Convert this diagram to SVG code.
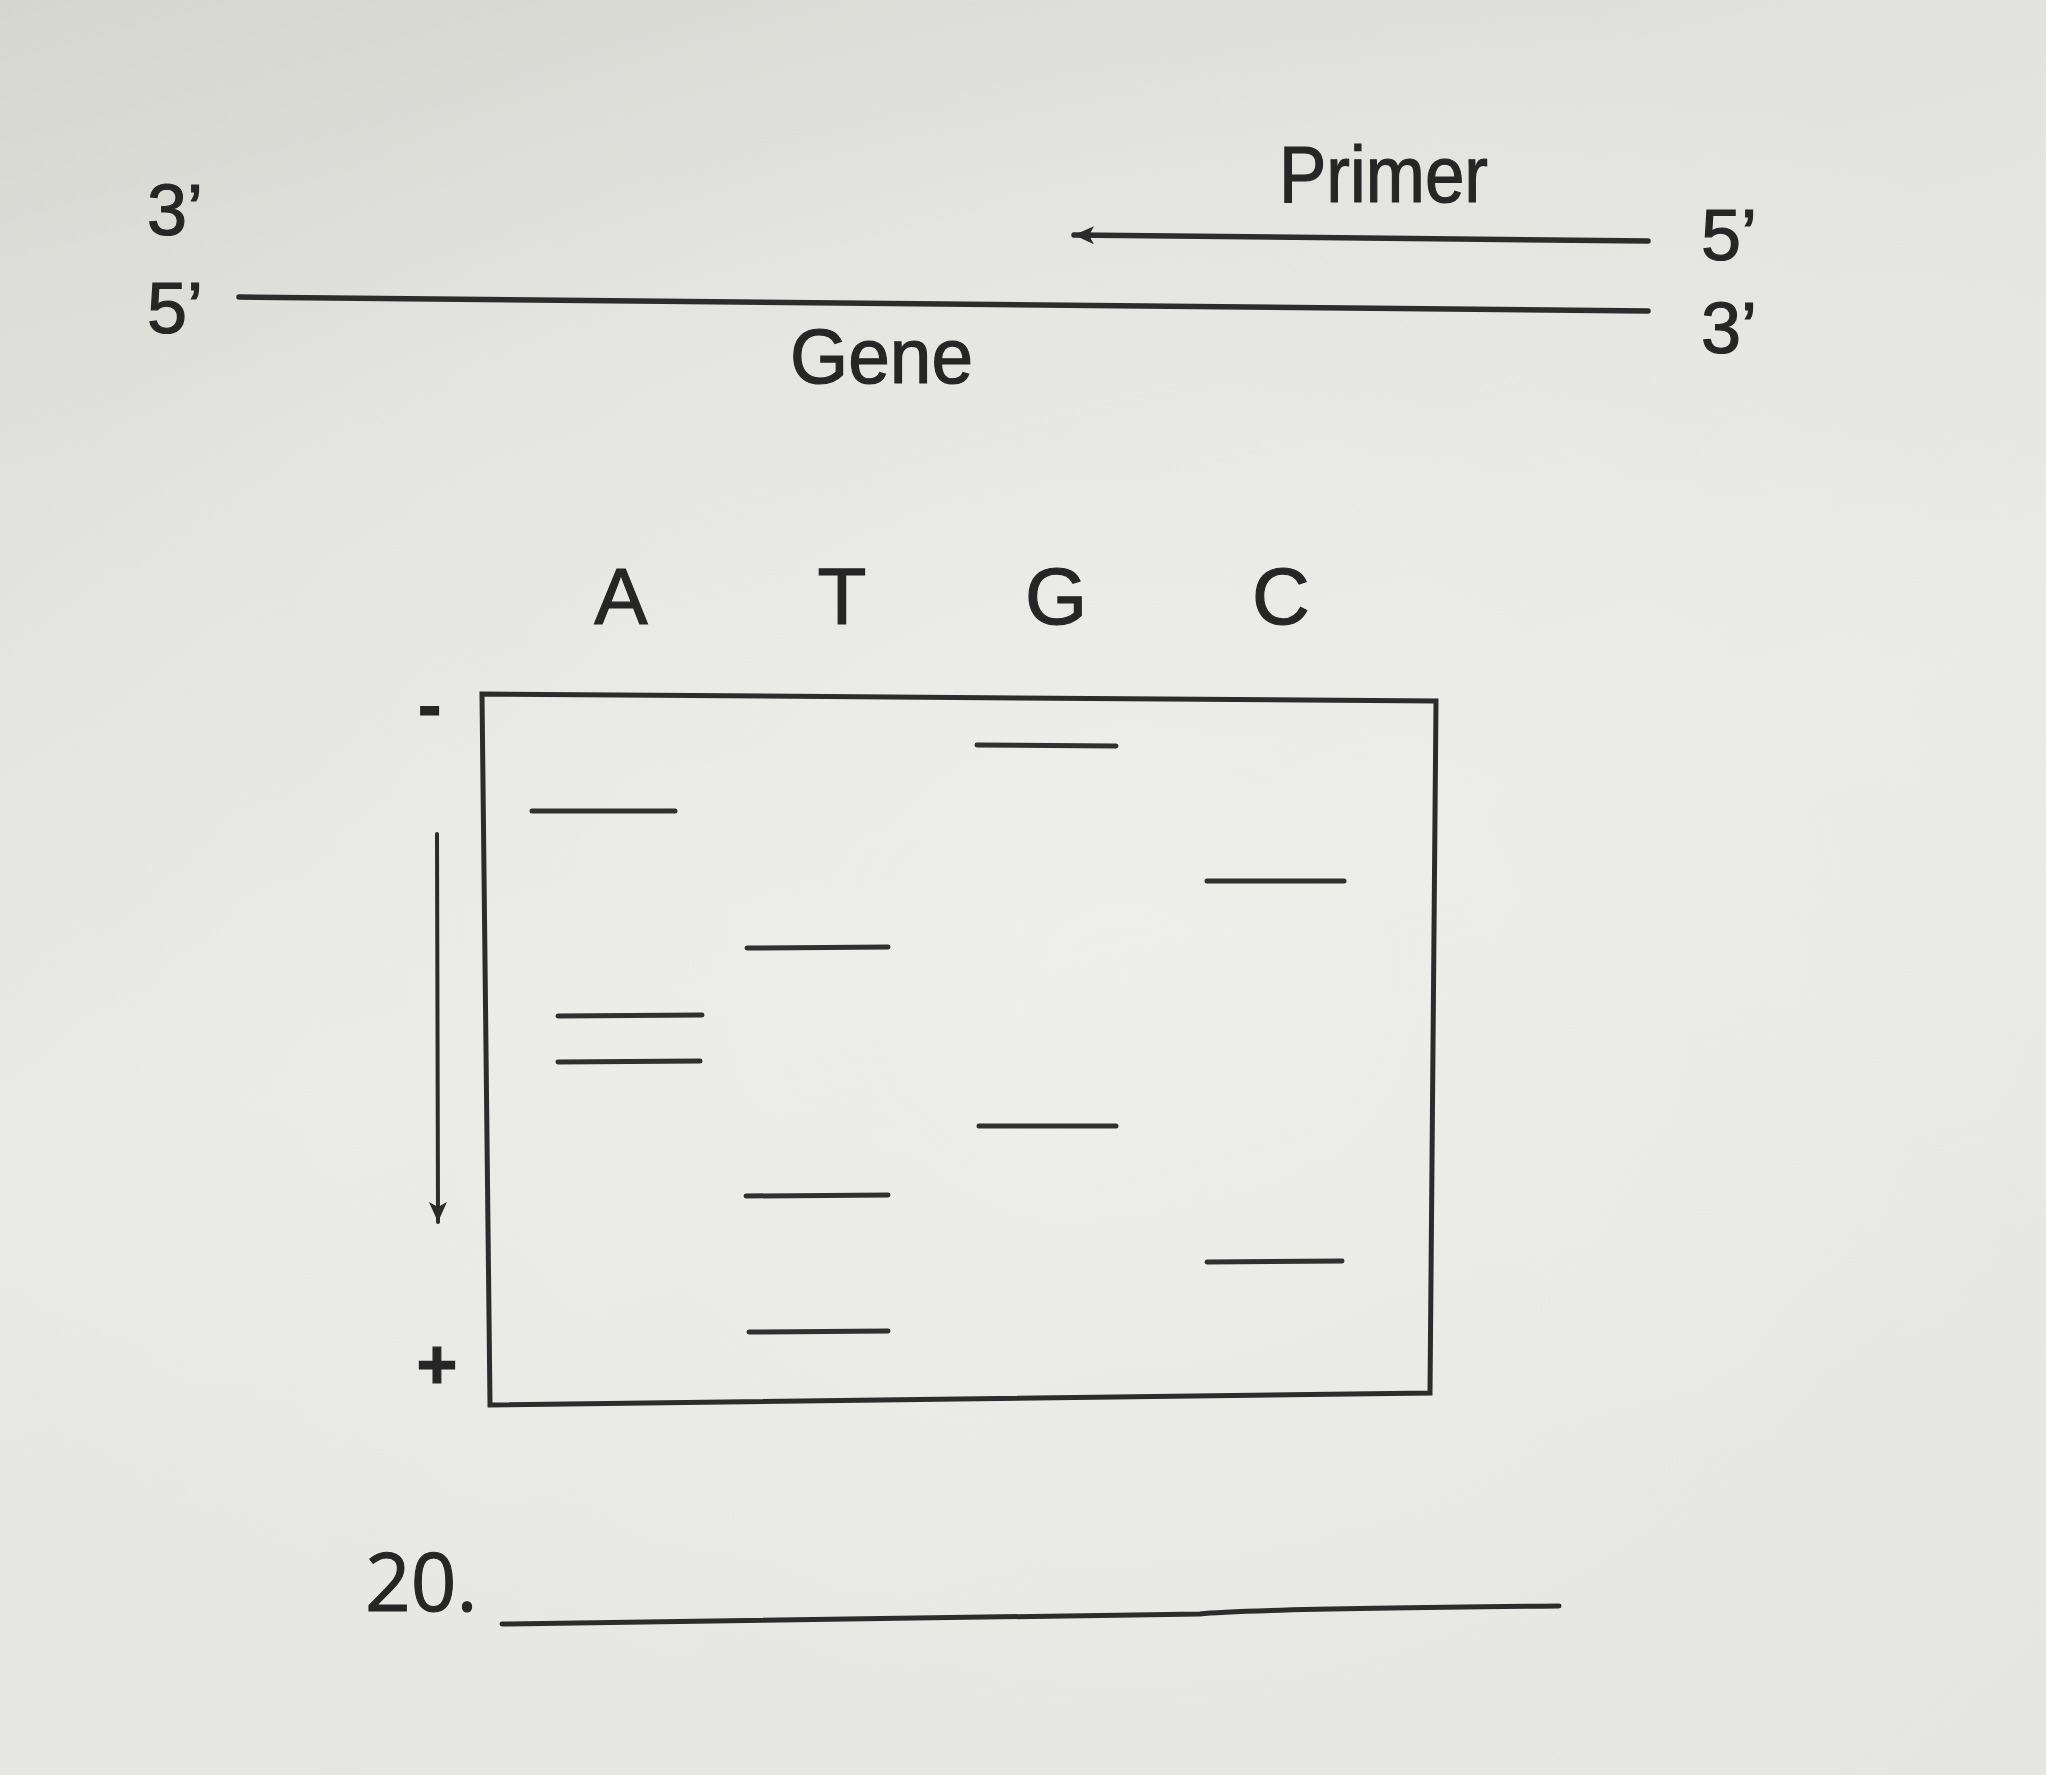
<svg xmlns="http://www.w3.org/2000/svg" width="2046" height="1775" viewBox="0 0 2046 1775">
<defs>
<linearGradient id="paper" x1="0" y1="0" x2="0.3" y2="1">
<stop offset="0" stop-color="#d6d6d1"/>
<stop offset="0.25" stop-color="#e1e2dd"/>
<stop offset="0.6" stop-color="#e9eae5"/>
<stop offset="1" stop-color="#e5e6e1"/>
</linearGradient>
<radialGradient id="glow" cx="0.55" cy="0.55" r="0.6">
<stop offset="0" stop-color="#f0f1ec" stop-opacity="0.7"/>
<stop offset="1" stop-color="#f0f1ec" stop-opacity="0"/>
</radialGradient>
<marker id="head" markerUnits="userSpaceOnUse" markerWidth="24" markerHeight="20" refX="20" refY="10" orient="auto">
<path d="M0,1 L20,10 L0,19 L5,10 Z" fill="#2b2b2b"/>
</marker>
<style>
.t{font-family:"Liberation Sans",Arial,sans-serif;fill:#262626;stroke:#262626;stroke-width:1.2}
.ln{stroke:#2c2c2c;fill:none;stroke-linecap:round}
.band{stroke:#303030;stroke-width:5;stroke-linecap:round}
</style>
</defs>
<rect width="2046" height="1775" fill="url(#paper)"/>
<rect width="2046" height="1775" fill="url(#glow)"/>

<g id="strand-labels">
<text class="t" x="147" y="235" font-size="72">3’</text>
<text class="t" x="147" y="333" font-size="72">5’</text>
<text class="t" x="1701" y="260" font-size="72">5’</text>
<text class="t" x="1701" y="353" font-size="72">3’</text>
</g>
<g id="primer-label"><text class="t" x="1279" y="202" font-size="79" textLength="209" lengthAdjust="spacingAndGlyphs">Primer</text></g>
<g id="gene-label"><text class="t" x="790" y="383" font-size="77" textLength="183" lengthAdjust="spacingAndGlyphs">Gene</text></g>

<g id="lane-labels" class="t" font-size="80" text-anchor="middle">
<text x="621" y="624">A</text>
<text x="842" y="624">T</text>
<text x="1056" y="624">G</text>
<text x="1281" y="624">C</text>
</g>

<g id="gel">
<path class="ln" stroke-width="5" d="M482,694 L1436,701 L1430,1393 L490,1405 Z"/>
</g>
<g id="electrodes" class="t" font-weight="bold">
<text x="418" y="729" font-size="70">-</text>
<text x="437" y="1389" font-size="70" text-anchor="middle">+</text>
</g>

<g id="bands">
<line class="band" x1="977" y1="745" x2="1116" y2="746"/>
<line class="band" x1="532" y1="811" x2="675" y2="811"/>
<line class="band" x1="1207" y1="881" x2="1344" y2="881"/>
<line class="band" x1="747" y1="948" x2="888" y2="947"/>
<line class="band" x1="558" y1="1016" x2="702" y2="1015"/>
<line class="band" x1="558" y1="1062" x2="700" y2="1061"/>
<line class="band" x1="979" y1="1126" x2="1116" y2="1126"/>
<line class="band" x1="746" y1="1196" x2="888" y2="1195"/>
<line class="band" x1="1207" y1="1262" x2="1342" y2="1261"/>
<line class="band" x1="749" y1="1332" x2="888" y2="1331"/>
</g>

<g id="connectors">
<line class="ln" stroke-width="5.5" x1="239" y1="297" x2="1648" y2="311"/>
<line class="ln" stroke-width="5.5" x1="1648" y1="241" x2="1074" y2="235" marker-end="url(#head)"/>
<line class="ln" stroke-width="4" x1="437" y1="834" x2="438" y2="1222" marker-end="url(#head)"/>
</g>

<g id="question">
<text x="365" y="1611" font-family="'Open Sans','Liberation Sans',sans-serif" font-size="80" fill="#262626" stroke="#262626" stroke-width="1">20.</text>
<path class="ln" stroke-width="5" d="M502,1624 Q1000,1616 1200,1614 Q1240,1609 1559,1606"/>
</g>
</svg>
